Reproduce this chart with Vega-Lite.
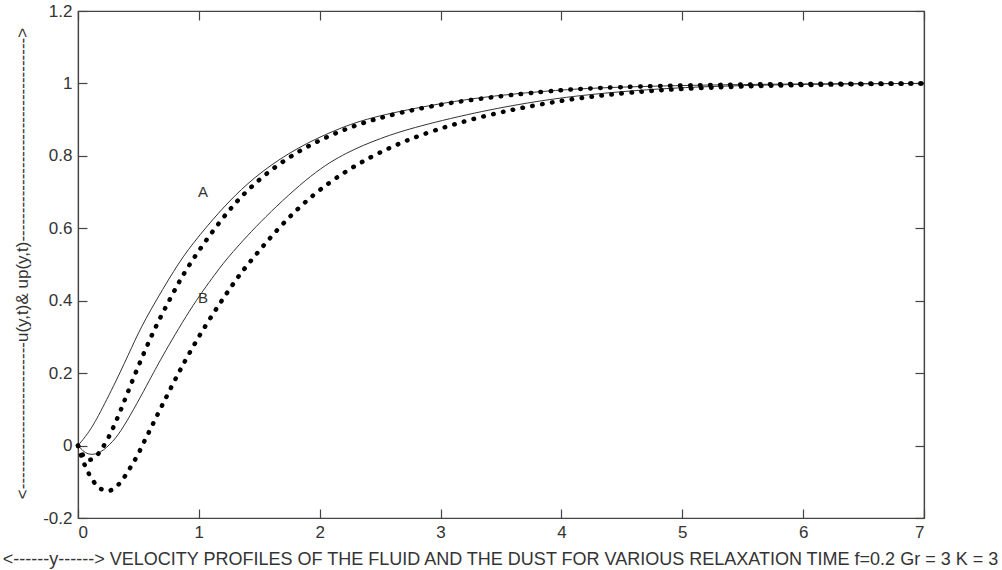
{
  "$schema": "https://vega.github.io/schema/vega-lite/v6.json",
  "width": 846,
  "height": 507,
  "autosize": {"type": "none"},
  "padding": {"left": 78, "top": 11, "right": 78, "bottom": 52},
  "background": "white",
  "config": {
    "view": {"stroke": "#444", "strokeWidth": 1.2},
    "font": "Liberation Sans",
    "axis": {
      "domainColor": "#444",
      "domainWidth": 1.2,
      "tickColor": "#444",
      "tickWidth": 1.2,
      "tickSize": -9,
      "grid": false,
      "labelColor": "#333",
      "labelFont": "Liberation Sans",
      "labelFontSize": 17,
      "titleColor": "#333",
      "titleFont": "Liberation Sans",
      "titleFontWeight": "normal"
    }
  },
  "datasets": {
    "curves": [
      {"curve": "A fluid", "kind": "fluid", "y": 0, "u": 0},
      {"curve": "A fluid", "kind": "fluid", "y": 0.08, "u": 0.032},
      {"curve": "A fluid", "kind": "fluid", "y": 0.155, "u": 0.072},
      {"curve": "A fluid", "kind": "fluid", "y": 0.32, "u": 0.181},
      {"curve": "A fluid", "kind": "fluid", "y": 0.45, "u": 0.275},
      {"curve": "A fluid", "kind": "fluid", "y": 0.54, "u": 0.34},
      {"curve": "A fluid", "kind": "fluid", "y": 0.761, "u": 0.466},
      {"curve": "A fluid", "kind": "fluid", "y": 0.9, "u": 0.538},
      {"curve": "A fluid", "kind": "fluid", "y": 1.12, "u": 0.627},
      {"curve": "A fluid", "kind": "fluid", "y": 1.3, "u": 0.692},
      {"curve": "A fluid", "kind": "fluid", "y": 1.506, "u": 0.754},
      {"curve": "A fluid", "kind": "fluid", "y": 1.81, "u": 0.823},
      {"curve": "A fluid", "kind": "fluid", "y": 2.195, "u": 0.882},
      {"curve": "A fluid", "kind": "fluid", "y": 2.5, "u": 0.913},
      {"curve": "A fluid", "kind": "fluid", "y": 3.078, "u": 0.95},
      {"curve": "A fluid", "kind": "fluid", "y": 3.5, "u": 0.968},
      {"curve": "A fluid", "kind": "fluid", "y": 3.905, "u": 0.98},
      {"curve": "A fluid", "kind": "fluid", "y": 4.29, "u": 0.988},
      {"curve": "A fluid", "kind": "fluid", "y": 5, "u": 0.995},
      {"curve": "A fluid", "kind": "fluid", "y": 6, "u": 0.999},
      {"curve": "A fluid", "kind": "fluid", "y": 7, "u": 1.0},

      {"curve": "B fluid", "kind": "fluid", "y": 0, "u": 0},
      {"curve": "B fluid", "kind": "fluid", "y": 0.05, "u": -0.018},
      {"curve": "B fluid", "kind": "fluid", "y": 0.099, "u": -0.026},
      {"curve": "B fluid", "kind": "fluid", "y": 0.182, "u": -0.022},
      {"curve": "B fluid", "kind": "fluid", "y": 0.292, "u": 0.011},
      {"curve": "B fluid", "kind": "fluid", "y": 0.375, "u": 0.05},
      {"curve": "B fluid", "kind": "fluid", "y": 0.486, "u": 0.115},
      {"curve": "B fluid", "kind": "fluid", "y": 0.596, "u": 0.183},
      {"curve": "B fluid", "kind": "fluid", "y": 0.678, "u": 0.235},
      {"curve": "B fluid", "kind": "fluid", "y": 0.927, "u": 0.378},
      {"curve": "B fluid", "kind": "fluid", "y": 1.147, "u": 0.48},
      {"curve": "B fluid", "kind": "fluid", "y": 1.258, "u": 0.527},
      {"curve": "B fluid", "kind": "fluid", "y": 1.533, "u": 0.628},
      {"curve": "B fluid", "kind": "fluid", "y": 1.947, "u": 0.755},
      {"curve": "B fluid", "kind": "fluid", "y": 2.223, "u": 0.81},
      {"curve": "B fluid", "kind": "fluid", "y": 2.5, "u": 0.849},
      {"curve": "B fluid", "kind": "fluid", "y": 2.8, "u": 0.881},
      {"curve": "B fluid", "kind": "fluid", "y": 3.354, "u": 0.925},
      {"curve": "B fluid", "kind": "fluid", "y": 3.85, "u": 0.954},
      {"curve": "B fluid", "kind": "fluid", "y": 4.236, "u": 0.97},
      {"curve": "B fluid", "kind": "fluid", "y": 4.7, "u": 0.983},
      {"curve": "B fluid", "kind": "fluid", "y": 5.2, "u": 0.992},
      {"curve": "B fluid", "kind": "fluid", "y": 6, "u": 0.998},
      {"curve": "B fluid", "kind": "fluid", "y": 7, "u": 1.0},

      {"curve": "A dust", "kind": "dust", "y": 0, "u": 0},
      {"curve": "A dust", "kind": "dust", "y": 0.044, "u": -0.032},
      {"curve": "A dust", "kind": "dust", "y": 0.094, "u": -0.043},
      {"curve": "A dust", "kind": "dust", "y": 0.147, "u": -0.032},
      {"curve": "A dust", "kind": "dust", "y": 0.193, "u": -0.012},
      {"curve": "A dust", "kind": "dust", "y": 0.251, "u": 0.02},
      {"curve": "A dust", "kind": "dust", "y": 0.292, "u": 0.05},
      {"curve": "A dust", "kind": "dust", "y": 0.35, "u": 0.094},
      {"curve": "A dust", "kind": "dust", "y": 0.436, "u": 0.168},
      {"curve": "A dust", "kind": "dust", "y": 0.54, "u": 0.252},
      {"curve": "A dust", "kind": "dust", "y": 0.643, "u": 0.329},
      {"curve": "A dust", "kind": "dust", "y": 0.747, "u": 0.396},
      {"curve": "A dust", "kind": "dust", "y": 0.844, "u": 0.457},
      {"curve": "A dust", "kind": "dust", "y": 0.949, "u": 0.515},
      {"curve": "A dust", "kind": "dust", "y": 1.189, "u": 0.627},
      {"curve": "A dust", "kind": "dust", "y": 1.396, "u": 0.706},
      {"curve": "A dust", "kind": "dust", "y": 1.671, "u": 0.782},
      {"curve": "A dust", "kind": "dust", "y": 1.947, "u": 0.836},
      {"curve": "A dust", "kind": "dust", "y": 2.223, "u": 0.876},
      {"curve": "A dust", "kind": "dust", "y": 2.5, "u": 0.907},
      {"curve": "A dust", "kind": "dust", "y": 3.078, "u": 0.95},
      {"curve": "A dust", "kind": "dust", "y": 3.905, "u": 0.98},
      {"curve": "A dust", "kind": "dust", "y": 4.29, "u": 0.988},
      {"curve": "A dust", "kind": "dust", "y": 5, "u": 0.995},
      {"curve": "A dust", "kind": "dust", "y": 6, "u": 0.999},
      {"curve": "A dust", "kind": "dust", "y": 7, "u": 1.0},

      {"curve": "B dust", "kind": "dust", "y": 0, "u": 0},
      {"curve": "B dust", "kind": "dust", "y": 0.039, "u": -0.043},
      {"curve": "B dust", "kind": "dust", "y": 0.094, "u": -0.082},
      {"curve": "B dust", "kind": "dust", "y": 0.147, "u": -0.109},
      {"curve": "B dust", "kind": "dust", "y": 0.193, "u": -0.122},
      {"curve": "B dust", "kind": "dust", "y": 0.251, "u": -0.127},
      {"curve": "B dust", "kind": "dust", "y": 0.292, "u": -0.121},
      {"curve": "B dust", "kind": "dust", "y": 0.35, "u": -0.104},
      {"curve": "B dust", "kind": "dust", "y": 0.394, "u": -0.082},
      {"curve": "B dust", "kind": "dust", "y": 0.444, "u": -0.055},
      {"curve": "B dust", "kind": "dust", "y": 0.497, "u": -0.025},
      {"curve": "B dust", "kind": "dust", "y": 0.544, "u": 0.009},
      {"curve": "B dust", "kind": "dust", "y": 0.596, "u": 0.043},
      {"curve": "B dust", "kind": "dust", "y": 0.645, "u": 0.077},
      {"curve": "B dust", "kind": "dust", "y": 0.701, "u": 0.114},
      {"curve": "B dust", "kind": "dust", "y": 0.844, "u": 0.21},
      {"curve": "B dust", "kind": "dust", "y": 1.051, "u": 0.332},
      {"curve": "B dust", "kind": "dust", "y": 1.299, "u": 0.455},
      {"curve": "B dust", "kind": "dust", "y": 1.396, "u": 0.497},
      {"curve": "B dust", "kind": "dust", "y": 1.671, "u": 0.607},
      {"curve": "B dust", "kind": "dust", "y": 1.947, "u": 0.695},
      {"curve": "B dust", "kind": "dust", "y": 2.223, "u": 0.76},
      {"curve": "B dust", "kind": "dust", "y": 2.471, "u": 0.806},
      {"curve": "B dust", "kind": "dust", "y": 2.8, "u": 0.856},
      {"curve": "B dust", "kind": "dust", "y": 3.354, "u": 0.912},
      {"curve": "B dust", "kind": "dust", "y": 3.905, "u": 0.948},
      {"curve": "B dust", "kind": "dust", "y": 4.29, "u": 0.966},
      {"curve": "B dust", "kind": "dust", "y": 4.705, "u": 0.979},
      {"curve": "B dust", "kind": "dust", "y": 5.0, "u": 0.985},
      {"curve": "B dust", "kind": "dust", "y": 5.5, "u": 0.992},
      {"curve": "B dust", "kind": "dust", "y": 6, "u": 0.996},
      {"curve": "B dust", "kind": "dust", "y": 7, "u": 1.0}
    ],
    "labels": [
      {"label": "A", "y": 1.034, "u": 0.7},
      {"label": "B", "y": 1.034, "u": 0.408}
    ]
  },
  "resolve": {"axis": {"x": "independent", "y": "independent"}},
  "layer": [
    {
      "data": {"name": "curves"},
      "transform": [{"filter": "datum.kind === 'fluid'"}],
      "mark": {"type": "line", "color": "#333", "strokeWidth": 1, "interpolate": "basis"},
      "encoding": {
        "x": {
          "field": "y", "type": "quantitative",
          "scale": {"domain": [0, 7], "nice": false, "zero": false},
          "axis": {
            "values": [0, 1, 2, 3, 4, 5, 6, 7],
            "labelPadding": 15,
            "labelBaseline": "top",
            "title": "<------y------>  VELOCITY PROFILES OF THE FLUID AND THE DUST FOR VARIOUS RELAXATION TIME f=0.2  Gr = 3  K = 3",
            "titleFontSize": 18,
            "titleX": 422,
            "titleY": 46,
            "titleAlign": "center",
            "titleBaseline": "alphabetic",
            "orient": "bottom"
          }
        },
        "y": {
          "field": "u", "type": "quantitative",
          "scale": {"domain": [-0.2, 1.2], "nice": false, "zero": false},
          "axis": {
            "values": [-0.2, 0, 0.2, 0.4, 0.6, 0.8, 1, 1.2],
            "labelExpr": "'' + datum.value",
            "labelPadding": 15,
            "title": "<--------------------------u(y,t)& up(y,t)------------------------------------>",
            "titleFontSize": 17,
            "titleAngle": -90,
            "titleX": -56,
            "titleY": 252,
            "titleAlign": "center",
            "titleBaseline": "middle",
            "orient": "left"
          }
        },
        "detail": {"field": "curve"}
      }
    },
    {
      "data": {"name": "curves"},
      "transform": [{"filter": "datum.kind === 'dust'"}],
      "mark": {"type": "line", "color": "black", "strokeWidth": 4.5, "strokeCap": "round", "strokeDash": [0.5, 9.5], "interpolate": "basis"},
      "encoding": {
        "x": {
          "field": "y", "type": "quantitative",
          "axis": {"orient": "top", "values": [0, 1, 2, 3, 4, 5, 6, 7], "labels": false, "title": null}
        },
        "y": {
          "field": "u", "type": "quantitative",
          "axis": {"orient": "right", "values": [-0.2, 0, 0.2, 0.4, 0.6, 0.8, 1, 1.2], "labels": false, "title": null}
        },
        "detail": {"field": "curve"}
      }
    },
    {
      "data": {"name": "labels"},
      "mark": {"type": "text", "fontSize": 15, "color": "#333", "font": "Liberation Sans"},
      "encoding": {
        "x": {"field": "y", "type": "quantitative", "axis": null},
        "y": {"field": "u", "type": "quantitative", "axis": null},
        "text": {"field": "label"}
      }
    }
  ]
}
